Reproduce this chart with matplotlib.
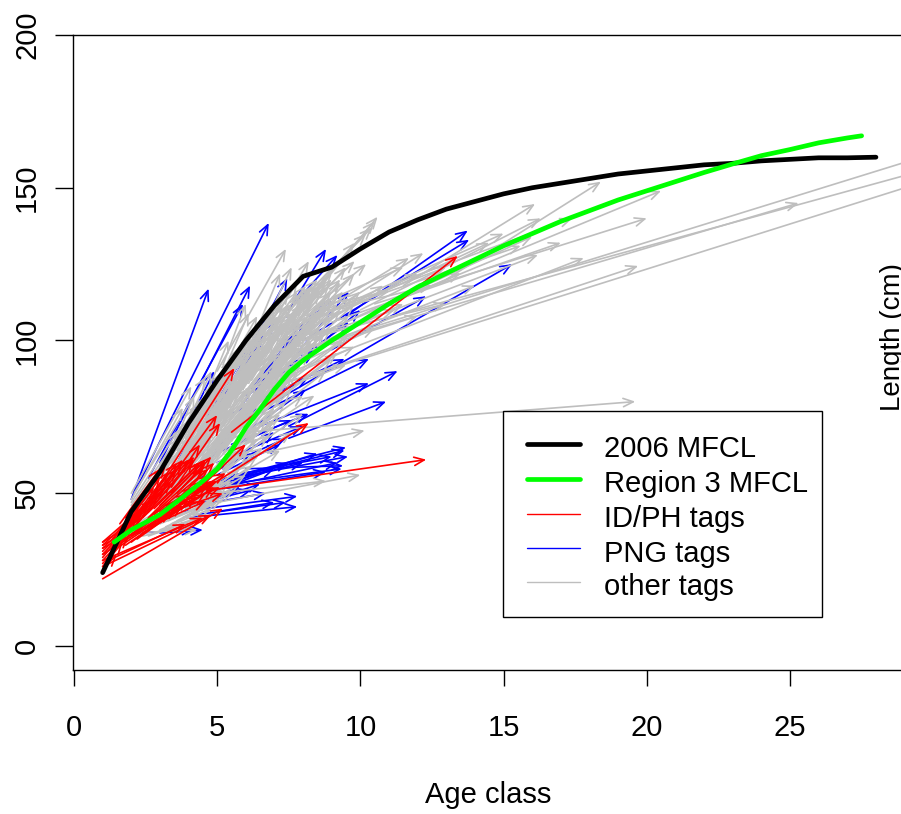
"""Growth curves with tag release/recapture arrows (age class vs length)."""

import matplotlib
matplotlib.use("Agg")
import matplotlib.pyplot as plt
from matplotlib.lines import Line2D
from matplotlib.patches import Rectangle

plt.rcParams["font.family"] = ["Liberation Sans", "DejaVu Sans"]

W, H = 901, 814

age_2006 = [1, 2, 3, 4, 5, 6, 7, 8, 9, 10, 11, 12, 13, 14, 15, 16, 17, 18, 19, 20, 21, 22, 23, 24, 25, 26, 27, 28]
len_2006 = [24, 44, 57, 73, 87, 100, 111.5, 121, 124, 130, 135.5, 139.5, 143, 145.5, 148, 150, 151.5, 153, 154.5,
            155.5, 156.5, 157.5, 158, 158.8, 159.3, 159.8, 159.8, 160]

age_reg3 = [1.4, 2, 3, 3.7, 4.5, 5, 5.5, 6, 6.5, 7, 7.5, 8, 9, 10, 11, 12, 13, 14, 15, 16, 17, 18, 19, 20, 21, 22,
            23, 24, 25, 26, 27, 27.5]
len_reg3 = [34, 38, 43, 48, 54, 58, 64, 71.5, 77.5, 84, 89.5, 93.5, 100, 106, 112, 117.5, 122, 126.5, 131, 135, 139,
            142.5, 146, 149, 152, 155, 157.8, 160.5, 162.5, 164.7, 166.3, 167]

# tags: (age at release, length at release, age at recapture, length at recapture)
blue_tags = [
    (2.0, 48, 4.7, 117), (2.1, 50, 6.8, 138.5), (3.0, 60, 6.15, 118), (2.6, 55, 5.9, 112), (6.0, 95, 7.45, 120.5),
    (7.5, 110, 9.2, 128), (7.5, 110, 8.8, 130), (9.5, 108, 13.75, 136), (8.0, 100, 13.8, 133), (7.0, 80, 15.3, 125),
    (9.0, 97, 12.3, 114.5), (7.5, 72, 11.3, 90), (7.5, 68, 10.9, 80), (5.5, 76, 9.45, 94), (6.0, 74, 10.3, 94),
    (6.5, 72, 10.3, 86), (5.5, 66, 8.2, 76), (5.0, 60, 8.0, 72), (5.2, 64, 7.6, 74), (5.5, 60, 7.4, 68),
    (4.5, 53, 9.5, 65), (5.0, 54, 9.57, 62), (4.6, 52, 9.35, 58), (5.2, 52, 9.2, 60), (5.5, 55, 9.45, 64),
    (4.8, 51, 8.8, 57), (5.0, 53, 8.5, 63), (5.6, 56, 9.0, 62), (4.5, 50, 7.5, 60), (4.2, 48, 7.0, 58),
    (4.6, 52, 8.0, 60), (6.0, 58, 9.4, 59), (3.8, 44, 7.8, 49), (4.0, 42, 7.8, 45.6), (4.3, 43, 7.4, 47),
    (5.0, 44, 7.0, 47), (3.6, 45, 6.7, 50), (4.0, 46, 6.2, 51), (4.5, 47, 5.8, 52), (4.2, 46, 6.5, 53),
    (4.0, 50, 6.0, 56), (3.0, 37, 4.5, 38), (2.2, 37, 4.2, 38), (4.4, 55, 6.2, 63), (5.2, 58, 7.0, 70),
    (5.0, 56, 7.2, 66), (4.4, 58, 6.4, 78), (4.8, 62, 6.8, 88), (5.1, 66, 7.0, 92), (5.6, 72, 7.6, 102),
    (5.8, 78, 7.2, 96), (6.2, 84, 8.0, 106), (6.6, 88, 8.4, 108), (6.4, 92, 7.8, 110), (7.0, 94, 8.8, 112),
    (7.4, 98, 8.6, 110), (7.8, 100, 9.0, 114), (4.2, 70, 5.4, 90), (4.6, 74, 6.0, 96), (5.0, 78, 6.2, 98),
    (5.4, 84, 6.6, 102), (5.8, 90, 7.0, 106), (3.6, 60, 5.0, 84), (3.4, 62, 4.9, 90), (6.0, 82, 8.4, 96),
    (6.6, 80, 8.2, 88), (6.0, 70, 8.1, 84), (7.0, 88, 9.6, 106), (8.0, 94, 10.0, 110), (7.8, 96, 9.6, 116),
]

gray_tags = [
    # long ones out to the right
    (6.5, 93, 32.0, 167), (8.0, 100, 32.0, 161.7), (7.0, 85, 32.0, 158.8), (8.0, 97, 25.3, 145), (6.0, 70, 19.6, 80),
    (7.0, 85, 19.7, 124.4), (12.0, 116, 20.5, 149), (13.0, 120, 18.4, 152), (10.5, 112, 20.0, 140), (6.0, 84, 17.8, 127),
    (9.0, 106, 17.0, 132), (11.0, 118, 17.4, 140), (10.0, 110, 16.3, 140), (11.5, 118, 16.1, 144.7), (9.5, 112, 15.0, 135),
    (9.0, 108, 14.5, 132), (8.0, 104, 12.2, 128.6), (8.0, 106, 11.7, 127), (7.5, 104, 10.2, 125), (9.0, 110, 13.0, 124),
    (8.0, 100, 13.5, 122), (8.5, 108, 15.6, 131), (9.0, 104, 16.0, 134), (9.5, 104, 16.2, 128), (8.5, 98, 14.0, 118),
    (8.5, 102, 13.0, 112), (8.0, 103, 12.0, 122), (8.0, 108, 12.5, 118), (8.4, 111, 11.0, 116), (8.6, 112, 11.5, 124),
    (7.8, 100, 11.2, 110), (7.5, 98, 10.8, 118), (8.0, 96, 12.0, 108), (7.0, 92, 11.5, 112), (6.8, 88, 10.5, 104),
    (6.5, 84, 9.8, 98), (6.0, 80, 9.5, 92), (5.0, 60, 10.15, 70.5), (5.0, 47, 10.0, 56), (5.0, 50, 8.8, 54),
    (7.5, 105, 10.6, 140.5), (7.6, 108, 10.5, 139), (7.8, 112, 10.4, 137), (8.0, 114, 10.2, 135), (7.9, 110, 9.8, 132),
    (5.0, 90, 7.4, 130), (5.0, 85, 6.1, 109), (5.2, 88, 6.4, 108), (2.0, 50, 4.1, 85), (2.1, 50, 4.6, 88),
    # start at age 2
    (2.0, 48, 3.8, 78), (2.0, 47, 3.6, 70), (2.0, 46, 3.9, 72), (2.0, 45, 3.4, 62), (2.0, 44, 4.0, 68),
    (2.0, 43, 3.5, 58), (2.0, 42, 4.2, 62), (2.0, 41, 3.8, 55), (2.0, 40, 4.3, 58), (2.0, 39, 4.0, 50),
    (2.0, 38, 4.5, 52), (2.0, 37, 4.3, 38), (2.3, 38, 4.8, 47), (2.5, 40, 5.0, 50), (2.8, 42, 5.2, 54),
    # main band between the two curves
    (3.0, 55, 5.0, 82), (3.0, 52, 5.2, 80), (3.0, 50, 5.0, 74), (3.0, 48, 5.4, 72), (3.0, 46, 5.2, 66),
    (3.0, 44, 5.5, 62), (3.4, 60, 5.4, 88), (3.4, 56, 5.6, 84), (3.4, 52, 5.6, 78), (3.4, 49, 5.8, 72),
    (3.4, 47, 5.7, 64), (3.8, 66, 5.6, 92), (3.8, 62, 5.9, 90), (3.8, 58, 6.0, 84), (3.8, 54, 6.1, 80),
    (3.8, 50, 6.0, 70), (4.0, 70, 5.8, 96), (4.2, 68, 6.0, 94), (4.2, 64, 6.3, 92), (4.2, 60, 6.4, 86),
    (4.2, 56, 6.3, 78), (4.2, 52, 6.4, 72), (4.6, 78, 6.2, 100), (4.6, 74, 6.5, 100), (4.6, 70, 6.6, 96),
    (4.6, 66, 6.7, 92), (4.6, 62, 6.8, 88), (4.6, 58, 6.8, 82), (4.6, 54, 6.4, 70), (5.0, 82, 6.6, 104),
    (5.0, 78, 6.9, 104), (5.0, 74, 7.0, 100), (5.0, 70, 7.1, 96), (5.0, 66, 7.2, 92), (5.0, 62, 7.0, 84),
    (5.0, 58, 7.0, 74), (5.4, 88, 7.0, 108), (5.4, 84, 7.2, 108), (5.4, 80, 7.4, 106), (5.4, 76, 7.5, 102),
    (5.4, 72, 7.6, 98), (5.4, 68, 7.5, 92), (5.4, 64, 7.2, 82), (5.8, 92, 7.3, 112), (5.8, 88, 7.6, 112),
    (5.8, 84, 7.8, 110), (5.8, 80, 7.9, 106), (5.8, 76, 8.0, 102), (5.8, 72, 7.6, 92), (6.2, 96, 7.8, 116),
    (6.2, 92, 8.0, 116), (6.2, 88, 8.3, 112), (6.2, 84, 8.4, 108), (6.2, 80, 8.3, 100), (6.6, 100, 8.1, 118),
    (6.6, 96, 8.4, 118), (6.6, 92, 8.6, 116), (6.6, 88, 8.8, 112), (6.6, 84, 8.6, 104), (7.0, 104, 8.5, 120),
    (7.0, 100, 8.8, 120), (7.0, 96, 9.0, 116), (7.0, 92, 9.2, 112), (7.0, 88, 9.0, 104), (7.4, 104, 9.0, 122),
    (7.4, 100, 9.3, 120), (7.4, 96, 9.6, 114), (7.4, 92, 9.6, 108), (7.8, 106, 9.5, 124), (7.8, 102, 9.8, 122),
    (7.8, 98, 10.0, 116), (8.0, 110, 9.8, 126), (3.2, 58, 4.9, 80), (3.6, 63, 5.2, 86), (4.4, 74, 5.6, 92),
    (4.8, 80, 5.8, 98), (5.2, 86, 6.2, 102), (5.6, 90, 6.8, 108), (6.0, 94, 7.0, 110), (6.4, 98, 7.6, 112),
    (5.0, 68, 6.2, 84), (5.6, 76, 6.8, 90), (6.2, 86, 7.4, 98), (6.8, 94, 7.8, 106), (4.0, 60, 5.4, 76),
    (4.4, 64, 5.6, 78), (4.8, 66, 6.0, 80), (3.6, 54, 4.8, 68), (3.2, 50, 4.6, 64), (2.6, 46, 4.2, 64),
    (2.4, 44, 4.0, 60), (6.2, 74, 9.0, 94), (6.6, 80, 9.4, 100), (7.0, 84, 9.6, 102), (5.6, 66, 8.0, 82),
    # filling the dense middle
    (2.2, 46, 3.6, 68), (2.4, 48, 3.8, 72), (2.6, 50, 4.0, 74), (2.8, 53, 4.2, 78), (3.0, 57, 4.4, 80),
    (3.3, 60, 4.6, 82), (3.6, 64, 4.9, 86), (3.9, 68, 5.2, 90), (4.2, 72, 5.5, 94), (4.5, 76, 5.8, 97),
    (4.8, 81, 6.0, 99), (5.1, 84, 6.3, 103), (5.4, 88, 6.6, 106), (5.7, 91, 6.9, 109), (6.0, 96, 7.2, 113),
    (6.3, 99, 7.5, 116), (6.6, 102, 7.8, 119), (2.3, 42, 3.6, 60), (2.6, 44, 3.9, 62), (2.9, 47, 4.2, 66),
    (3.2, 50, 4.5, 70), (3.5, 54, 4.8, 74), (3.8, 57, 5.1, 78), (4.1, 60, 5.4, 82), (4.4, 64, 5.7, 85),
    (4.7, 68, 6.0, 88), (5.0, 72, 6.3, 92), (5.3, 75, 6.6, 96), (5.6, 80, 6.9, 100), (5.9, 84, 7.2, 103),
    (6.2, 87, 7.5, 107), (6.5, 90, 7.8, 110), (6.8, 93, 8.1, 113), (7.1, 97, 8.4, 116), (2.5, 39, 3.9, 52),
    (2.8, 41, 4.2, 56), (3.1, 44, 4.5, 60), (3.4, 46, 4.8, 63), (3.7, 48, 5.1, 66), (4.0, 51, 5.4, 70),
    (4.3, 54, 5.7, 73), (4.6, 57, 6.0, 76), (4.9, 60, 6.3, 80), (5.2, 63, 6.6, 84), (5.5, 67, 6.9, 88),
    (5.8, 71, 7.2, 91), (6.1, 76, 7.5, 95), (6.4, 81, 7.8, 98), (6.7, 85, 8.1, 102), (7.0, 90, 8.4, 106),
    (7.3, 94, 8.7, 110), (7.6, 98, 9.0, 112), (3.0, 40, 4.6, 46), (3.3, 41, 4.9, 48), (3.6, 43, 5.2, 51),
    (3.9, 45, 5.5, 54), (4.2, 47, 5.8, 58), (4.5, 50, 6.1, 64), (4.8, 53, 6.4, 68), (5.1, 56, 6.7, 74),
    (5.4, 60, 7.0, 78), (5.7, 66, 7.3, 84), (6.0, 69, 7.6, 88), (6.3, 74, 7.9, 92), (6.6, 78, 8.2, 96),
    (6.9, 82, 8.5, 100), (7.2, 86, 8.8, 104), (5.0, 52, 7.2, 64), (5.4, 56, 7.6, 70), (5.8, 62, 8.0, 76),
    (6.2, 68, 8.4, 82), (6.6, 74, 8.8, 90), (7.0, 80, 9.2, 96), (5.2, 92, 6.0, 112), (4.6, 82, 5.4, 100),
    (4.0, 74, 4.8, 90), (3.4, 64, 4.2, 82), (6.4, 104, 7.2, 122), (6.8, 108, 7.6, 124), (7.2, 110, 8.2, 126),
    # flatter ones crossing the band, these close up the gaps
    (2.2, 44, 4.8, 70), (2.4, 46, 5.0, 72), (2.6, 47, 5.2, 76), (2.8, 50, 5.4, 78), (3.0, 53, 5.6, 82),
    (3.2, 55, 5.8, 85), (3.4, 58, 6.0, 88), (3.6, 60, 6.2, 90), (3.8, 63, 6.4, 93), (4.0, 65, 6.6, 96),
    (4.2, 67, 6.8, 99), (4.4, 70, 7.0, 102), (4.6, 72, 7.2, 104), (4.8, 75, 7.4, 106), (5.0, 77, 7.6, 108),
    (5.2, 80, 7.8, 110), (5.4, 82, 8.0, 112), (5.6, 85, 8.2, 114), (5.8, 87, 8.4, 116), (6.0, 90, 8.6, 118),
    (6.2, 93, 8.8, 119), (6.4, 95, 9.0, 120), (3.0, 47, 5.8, 74), (3.2, 48, 6.0, 76), (3.4, 50, 6.2, 78),
    (3.6, 52, 6.4, 81), (3.8, 53, 6.6, 84), (4.0, 55, 6.8, 87), (4.2, 57, 7.0, 90), (4.4, 60, 7.2, 93),
    (4.6, 61, 7.4, 96), (4.8, 63, 7.6, 99), (5.0, 65, 7.8, 102), (5.2, 67, 8.0, 104), (5.4, 70, 8.2, 106),
    (5.6, 72, 8.4, 108), (5.8, 74, 8.6, 110), (6.0, 77, 8.8, 112), (6.2, 79, 9.0, 114), (6.4, 83, 9.2, 115),
    (2.4, 36, 4.2, 40), (2.6, 36, 4.4, 42), (2.8, 37, 4.6, 43), (3.0, 38, 4.8, 45), (3.2, 39, 5.0, 47),
    (3.4, 40, 5.2, 48), (3.6, 41, 5.4, 50), (3.8, 42, 5.6, 51), (4.0, 44, 5.8, 53), (4.2, 46, 6.0, 56),
    (4.4, 48, 6.2, 59), (4.6, 50, 6.4, 62), (4.8, 52, 6.6, 65), (5.0, 55, 6.8, 69), (5.2, 58, 7.0, 72),
    (5.4, 61, 7.2, 76), (5.6, 64, 7.4, 80), (5.8, 67, 7.6, 84), (6.0, 73, 7.8, 90), (6.2, 78, 8.0, 94),
    (3.1, 54, 4.3, 74), (3.5, 58, 4.7, 79), (3.9, 64, 5.1, 85), (4.3, 70, 5.5, 90), (4.7, 75, 5.9, 95),
    (5.1, 79, 6.3, 99), (5.5, 85, 6.7, 104), (5.9, 89, 7.1, 108), (6.3, 94, 7.5, 112), (6.7, 98, 7.9, 115),
    (7.1, 102, 8.3, 118), (7.5, 102, 8.9, 118), (7.9, 104, 9.3, 119), (8.2, 104, 9.4, 116), (8.4, 100, 9.8, 112),
    (3.7, 61, 4.9, 78), (4.1, 66, 5.3, 83), (4.5, 69, 5.7, 87), (4.9, 73, 6.1, 93), (5.3, 78, 6.5, 98),
    (5.7, 82, 6.9, 102), (6.1, 86, 7.3, 106), (6.5, 88, 7.7, 108), (6.9, 90, 8.1, 108), (7.3, 92, 8.5, 108),
    (7.7, 95, 8.9, 108), (8.1, 98, 9.3, 110), (4.7, 60, 5.9, 74), (5.1, 64, 6.3, 78), (5.5, 70, 6.7, 82),
    (5.9, 74, 7.1, 86), (6.3, 80, 7.5, 92), (6.7, 86, 7.9, 98), (7.1, 88, 8.3, 100), (7.5, 90, 8.7, 102),
]

red_tags = [
    (5.5, 70, 13.4, 127.7), (4.75, 51, 12.3, 61), (4.0, 48, 8.2, 73), (2.4, 44, 5.6, 91), (3.0, 50, 5.0, 75.6),
    (3.4, 50, 5.1, 73), (3.4, 52, 4.4, 66), (4.2, 50, 6.0, 66), (3.6, 47, 5.3, 56.6), (2.4, 38, 4.6, 47.5),
    (1.0, 22, 5.2, 45), (1.0, 26, 4.8, 43), (1.2, 28, 3.9, 40), (1.0, 28, 4.5, 42), (1.0, 30, 3.6, 45),
    (1.0, 34, 3.2, 52), (1.0, 33, 3.0, 50), (1.0, 32, 2.8, 48), (1.0, 31, 2.6, 46), (1.0, 30, 2.4, 44),
    (1.0, 29, 2.2, 42), (1.0, 28, 2.0, 38), (1.0, 27, 1.9, 36), (1.0, 26, 1.7, 34), (1.0, 25, 1.5, 30),
    (1.0, 34, 2.4, 42), (1.0, 33, 2.0, 38), (1.0, 32, 1.8, 36), (1.5, 34, 3.4, 54), (1.6, 36, 3.6, 58),
    (1.8, 38, 3.8, 60), (2.0, 38, 4.0, 61), (2.0, 40, 3.6, 60), (2.0, 41, 3.3, 57), (2.0, 42, 3.0, 55),
    (2.2, 40, 4.2, 61), (2.2, 42, 3.8, 61), (2.4, 42, 4.4, 60), (2.4, 40, 4.5, 58), (2.6, 42, 4.6, 61),
    (2.6, 44, 4.2, 62), (2.8, 43, 4.7, 58), (2.8, 45, 4.4, 60), (3.0, 44, 4.8, 56), (3.0, 46, 4.6, 61),
    (3.0, 42, 4.9, 54), (3.2, 46, 5.0, 54), (3.2, 44, 5.1, 52), (3.4, 46, 4.9, 60), (3.4, 44, 5.2, 50),
    (1.6, 34, 4.0, 50), (1.8, 35, 4.2, 52), (2.0, 36, 4.5, 54), (2.2, 37, 4.7, 53), (2.4, 37, 4.9, 52),
    (1.5, 32, 3.4, 44), (1.8, 33, 3.8, 46), (2.0, 34, 4.0, 48), (2.2, 35, 4.3, 49), (2.6, 38, 4.6, 50),
    (1.4, 36, 2.8, 52), (1.6, 40, 3.0, 58), (1.8, 42, 3.2, 59), (3.6, 50, 4.6, 60), (3.8, 52, 4.8, 62),
]

y_ticks = [0, 50, 100, 150, 200]
x_ticks = [0, 5, 10, 15, 20, 25]
legend_labels = ["2006 MFCL", "Region 3 MFCL", "ID/PH tags", "PNG tags", "other tags"]
legend_colors = ["black", "#00ff00", "red", "blue", "#bebebe"]
legend_widths = [3.4, 3.4, 1.0, 1.0, 1.0]


def px(x, y):
    return x / W, 1 - y / H


def draw_tags(ax, tags, color, z):
    for x0, y0, x1, y1 in tags:
        ax.annotate("", xy=(x1, y1), xytext=(x0, y0), zorder=z, annotation_clip=False,
                    arrowprops=dict(arrowstyle="->,head_length=0.72,head_width=0.3", color=color, lw=1.2,
                                    shrinkA=0, shrinkB=0, mutation_scale=10))


def main():
    fig = plt.figure(figsize=(W / 100, H / 100), dpi=100)
    ax = fig.add_axes([73 / W, 1 - 670 / H, (W - 73) / W, (670 - 35) / H])
    ax.set_xlim(-0.035, 28.875)
    ax.set_ylim(-7.86, 200)

    draw_tags(ax, blue_tags, "blue", 2)
    draw_tags(ax, gray_tags, "#bebebe", 3)
    draw_tags(ax, red_tags, "red", 4)

    ax.plot(age_2006, len_2006, color="black", lw=3.4, zorder=5, solid_capstyle="round")
    ax.plot(age_reg3, len_reg3, color="#00ff00", lw=3.4, zorder=6, solid_capstyle="round")

    ax.spines["right"].set_visible(False)
    for s in ["left", "top", "bottom"]:
        ax.spines[s].set_linewidth(1.0)

    ax.set_xticks(x_ticks)
    ax.set_yticks(y_ticks)
    ax.tick_params(axis="x", length=11.5, width=1.0, labelsize=21, pad=20)
    ax.tick_params(axis="y", length=13, width=1.0, labelsize=21, pad=10)
    for t in ax.get_yticklabels():
        t.set_rotation(90)
        t.set_va("center")

    fig.text(*px(488, 795), "Age class", fontsize=21, ha="center", va="center")
    fig.text(*px(893, 337), "Length (cm)", fontsize=20, ha="center", va="center", rotation=90)

    # legend box drawn by hand to hit the same spot
    x0, y0 = px(503, 617)
    fig.add_artist(Rectangle((x0, y0), 319 / W, 206 / H, transform=fig.transFigure, facecolor="white",
                             edgecolor="black", lw=1.0, zorder=7))
    rows = [444, 479, 514, 548, 582]
    baselines = [457, 492, 527, 562, 595]
    for row, base, label, c, lw in zip(rows, baselines, legend_labels, legend_colors, legend_widths):
        xa, ya = px(527, row)
        xb, _ = px(580, row)
        fig.add_artist(Line2D([xa, xb], [ya, ya], transform=fig.transFigure, color=c, lw=lw, zorder=8,
                              solid_capstyle="round"))
        tx, ty = px(604, base)
        fig.text(tx, ty, label, fontsize=21, ha="left", va="baseline", zorder=8)

    fig.savefig("out.png", dpi=100)


if __name__ == "__main__":
    main()
